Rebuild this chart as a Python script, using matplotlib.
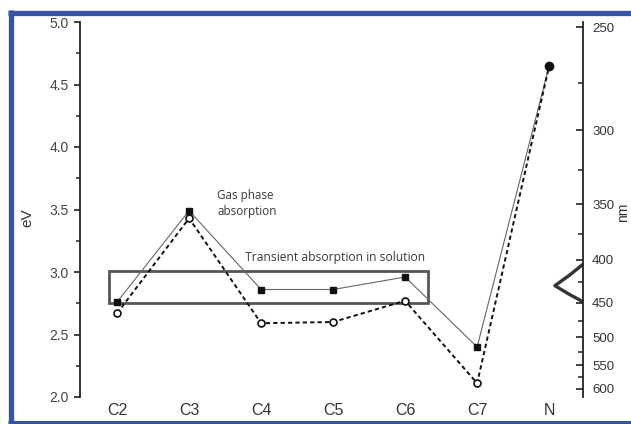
import matplotlib
matplotlib.use("Agg")
import matplotlib.pyplot as plt
import numpy as np
from matplotlib.patches import Rectangle
from matplotlib.lines import Line2D

# Categories and transition energies (eV)
categories = ["C2", "C3", "C4", "C5", "C6", "C7", "N"]
gas_phase_ev = [2.76, 3.49, 2.86, 2.86, 2.96, 2.40, 4.65]
calc_ev = [2.67, 3.43, 2.59, 2.60, 2.77, 2.11, 4.65]

# Solution transient absorption window (eV) spanning C2..C6
solution_box_ev = [2.755, 3.005]
solution_box_x = [-0.11, 4.32]

# Absorption band drawn against the wavelength axis
band_nm = [405, 417, 429, 439, 449]
band_depth = [0.0, 0.19, 0.39, 0.2, 0.0]

# Wavelength axis ticks
nm_major = [250, 300, 350, 400, 450, 500, 550, 600]
nm_minor = [275, 325, 375, 425, 475, 525, 575]

ev_ticks = [2.0, 2.5, 3.0, 3.5, 4.0, 4.5, 5.0]
ev_minor = [2.25, 2.75, 3.25, 3.75, 4.25, 4.75]

W, H = 631, 424
fig = plt.figure(figsize=(W / 100, H / 100), dpi=100)
fig.patch.set_facecolor("white")

ax = fig.add_axes([80 / W, 27 / H, 503 / W, 375 / H])
x = np.arange(len(categories))
xmin, xmax = -0.515, 6.47
ax.set_xlim(xmin, xmax)
ax.set_ylim(2.0, 5.0)

for s in ["top", "bottom", "right"]:
    ax.spines[s].set_visible(False)
ax.spines["left"].set_linewidth(1.3)
ax.spines["left"].set_color("#222222")

ax.set_yticks(ev_ticks)
ax.set_yticklabels([f"{v:.1f}" for v in ev_ticks])
ax.set_yticks(ev_minor, minor=True)
ax.tick_params(axis="y", which="major", direction="out", length=4, width=1.2,
               colors="#222222", labelcolor="#444444", labelsize=10, pad=4)
ax.tick_params(axis="y", which="minor", direction="out", length=3, width=1.1,
               colors="#222222")
for lab in ax.get_yticklabels():
    lab.set_fontfamily("Liberation Sans")

ax.set_xticks(x)
ax.set_xticklabels(categories, fontfamily="Liberation Sans", fontsize=11.5,
                   color="#333333")
ax.tick_params(axis="x", length=0, pad=4)

fig.text(27 / W, 1 - 218 / H, "eV", rotation=90, fontfamily="Liberation Sans",
         fontsize=11, color="#333333", ha="center", va="center")

# Solution window box
ax.add_patch(Rectangle((solution_box_x[0], solution_box_ev[0]),
                       solution_box_x[1] - solution_box_x[0],
                       solution_box_ev[1] - solution_box_ev[0],
                       fill=False, edgecolor="#555555", linewidth=2.0, zorder=2))

# Series lines
ax.plot(x, gas_phase_ev, color="#666666", linewidth=0.8, zorder=3)
ax.plot(x, calc_ev, color="#111111", linewidth=1.4, linestyle=(0, (2.2, 1.6)),
        zorder=3)
ax.plot(x[:-1], gas_phase_ev[:-1], linestyle="none", marker="s", markersize=5,
        color="#111111", zorder=4)
ax.plot(x[:-1], calc_ev[:-1], linestyle="none", marker="o", markersize=5,
        markerfacecolor="white", markeredgecolor="#111111", markeredgewidth=1.2,
        zorder=4)
ax.plot(x[-1:], gas_phase_ev[-1:], linestyle="none", marker="o", markersize=6,
        color="#111111", zorder=5)

ax.text(1.39, 3.55, "Gas phase\nabsorption", fontfamily="Open Sans",
        fontsize=8.4, color="#3a3a3a", ha="left", va="center", linespacing=1.3)
ax.text(1.78, 3.12, "Transient absorption in solution", fontfamily="Open Sans",
        fontsize=8.7, color="#3a3a3a", ha="left", va="center")

# Wavelength axis (nm = 1240 / eV)
ax2 = ax.twinx()
ax2.set_ylim(2.0, 5.0)
ax2.set_xlim(xmin, xmax)
for s in ["top", "bottom", "left"]:
    ax2.spines[s].set_visible(False)
ax2.spines["right"].set_linewidth(1.3)
ax2.spines["right"].set_color("#222222")
ax2.set_yticks([1240 / v for v in nm_major])
ax2.set_yticklabels([str(v) for v in nm_major])
ax2.set_yticks([1240 / v for v in nm_minor], minor=True)
ax2.tick_params(axis="y", which="major", direction="in", length=5, width=1.2,
                colors="#222222", labelcolor="#333333", labelsize=9.5, pad=6.5)
ax2.tick_params(axis="y", which="minor", direction="in", length=3.5, width=1.1,
                colors="#222222")
for lab in ax2.get_yticklabels():
    lab.set_fontfamily("Liberation Sans")

band_y = [1240 / v for v in band_nm]
band_x = [xmax - d for d in band_depth]
ax2.plot(band_x, band_y, color="#333333", linewidth=2.4, solid_capstyle="butt",
         solid_joinstyle="round", clip_on=False)

fig.text(630 / W, 1 - 212 / H, "nm", rotation=90, fontfamily="Liberation Sans",
         fontsize=10, color="#333333", ha="right", va="center")

# Blue frame
blue = "#3454a4"
fig.add_artist(Line2D([10.5 / W, 10.5 / W], [0, 1 - 10 / H], color=blue,
                      linewidth=3.8, transform=fig.transFigure,
                      solid_capstyle="butt"))
fig.add_artist(Line2D([8 / W, 1], [1 - 12.5 / H, 1 - 12.5 / H], color=blue,
                      linewidth=3.8, transform=fig.transFigure,
                      solid_capstyle="butt"))
fig.add_artist(Line2D([8 / W, 1], [1.8 / H, 1.8 / H], color=blue,
                      linewidth=2.2, transform=fig.transFigure,
                      solid_capstyle="butt"))

fig.savefig("out.png", dpi=100, facecolor="white")
